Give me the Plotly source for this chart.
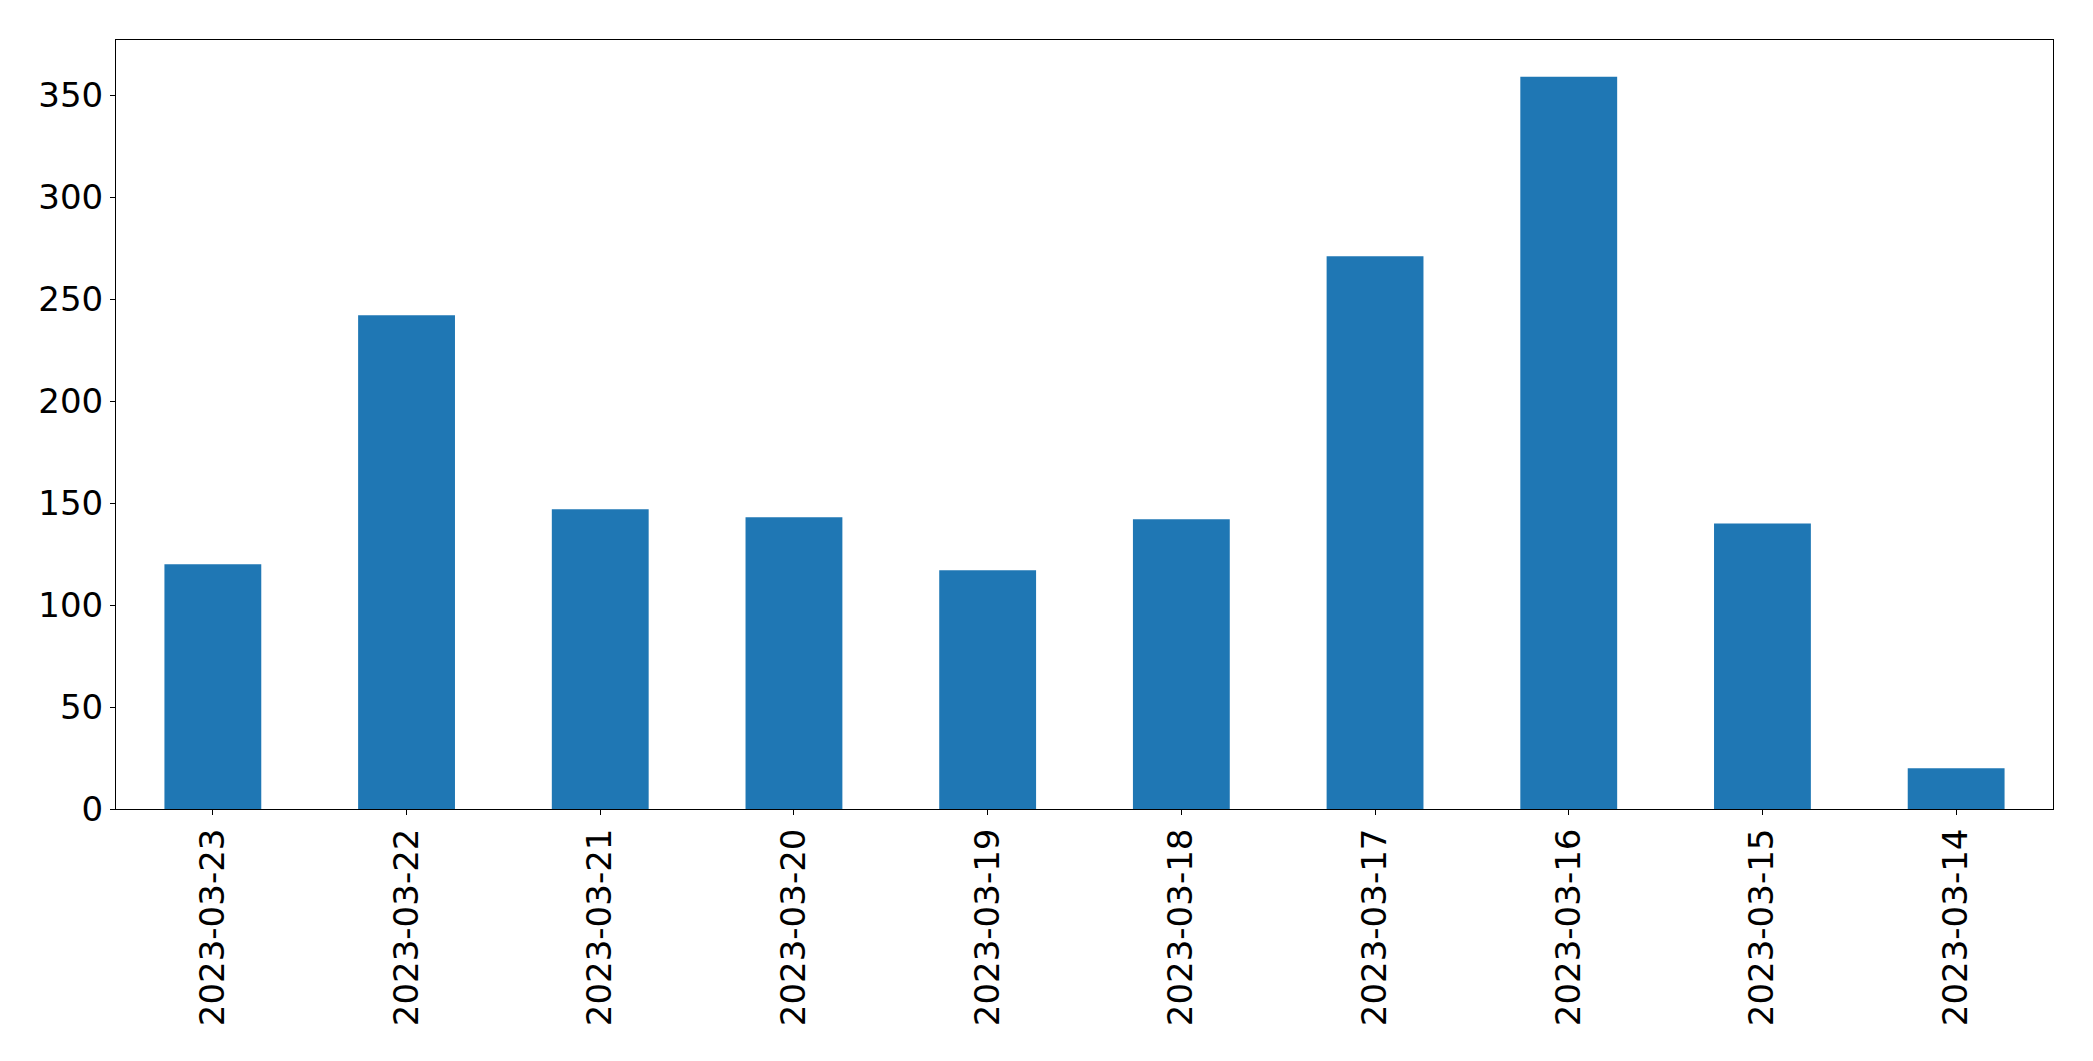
import plotly.graph_objects as go

dates = ["2023-03-23", "2023-03-22", "2023-03-21", "2023-03-20", "2023-03-19",
         "2023-03-18", "2023-03-17", "2023-03-16", "2023-03-15", "2023-03-14"]
counts = [120, 242, 147, 143, 117, 142, 271, 359, 140, 20]
y_ticks = [0, 50, 100, 150, 200, 250, 300, 350]

fig = go.Figure(go.Bar(x=dates, y=counts, marker_color="#1f77b4", marker_line_width=0))

axis_style = dict(
    showline=True, linecolor="black", linewidth=1, mirror=True,
    ticks="outside", ticklen=5, tickcolor="black", tickwidth=1,
    showgrid=False, zeroline=False,
    tickfont=dict(family="DejaVu Sans", size=34, color="black"),
)

# page body adds an 8px offset, so margins are shifted to compensate
fig.update_layout(
    width=2093, height=1061,
    margin=dict(l=108, r=48, t=32, b=260),
    paper_bgcolor="white", plot_bgcolor="white",
    bargap=0.5, showlegend=False,
)
fig.update_xaxes(type="category", tickangle=-90, range=[-0.5, 9.5], **axis_style)
fig.update_yaxes(range=[0, 377], tickvals=y_ticks, **axis_style)

fig.write_html("out.html")
